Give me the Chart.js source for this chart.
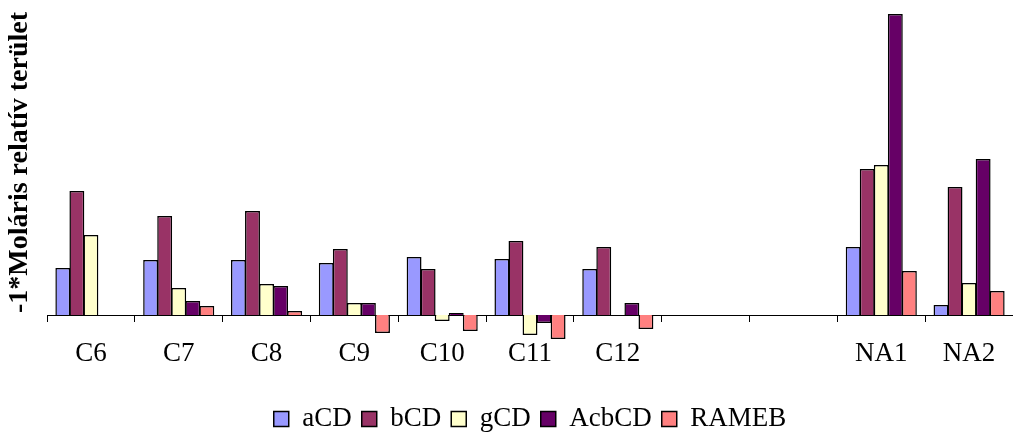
<!DOCTYPE html>
<html>
<head>
<meta charset="utf-8">
<script src="https://cdn.jsdelivr.net/npm/chart.js@4"></script>
<style>
  html, body { margin: 0; padding: 0; background: #fff; }
  #wrap { width: 1013px; height: 432px; }
</style>
</head>
<body>
<div id="wrap"><canvas id="chart"></canvas></div>
<script>
const categories = ["C6", "C7", "C8", "C9", "C10", "C11", "C12", "", "", "NA1", "NA2"];
const aCD = [47, 55, 55, 52, 58, 56, 46, null, null, 68, 10];
const bCD = [124, 99, 104, 66, 46, 74, 68, null, null, 146, 128];
const gCD = [80, 27, 31, 12, -6, -20, null, null, null, 150, 32];
const AcbCD = [null, 14, 29, 12, 2, -8, 12, null, null, 301, 156];
const RAMEB = [null, 9, 4, -18, -16, -24, -14, null, null, 44, 24];

const serif = "'Liberation Serif', 'Times New Roman', Times, serif";
Chart.defaults.font.family = serif;
Chart.defaults.color = "#000";

function bar(label, data, color) {
  return {
    label: label,
    data: data,
    backgroundColor: color,
    borderColor: "#000",
    borderWidth: 1.5,
    clip: false,
  };
}

const chart = new Chart(document.getElementById("chart"), {
  type: "bar",
  data: {
    labels: categories,
    datasets: [
      bar("aCD", aCD, "#9999FF"),
      bar("bCD", bCD, "#993366"),
      bar("gCD", gCD, "#FFFFCC"),
      bar("AcbCD", AcbCD, "#660066"),
      bar("RAMEB", RAMEB, "#FF8080"),
    ],
  },
  options: {
    responsive: true,
    maintainAspectRatio: false,
    animation: false,
    datasets: {
      bar: { categoryPercentage: 0.8, barPercentage: 1.06 },
    },
    layout: {
      padding: { left: 3, right: 0, top: 10, bottom: -10.5 },
    },
    scales: {
      x: {
        grid: {
          display: true,
          drawOnChartArea: false,
          drawTicks: true,
          tickLength: 7,
          offset: true,
          color: "#000",
        },
        border: { display: true, color: "#000", width: 1 },
        ticks: {
          padding: 16,
          font: { size: 27 },
          maxRotation: 0,
          autoSkip: false,
        },
        afterFit: function (scale) {
          scale.height = 80.5;
        },
      },
      y: {
        min: 0,
        max: 305,
        grid: { display: false, drawTicks: false },
        border: { display: false },
        ticks: { display: false },
        title: {
          display: true,
          text: "-1*Moláris relatív terület",
          font: { size: 28, weight: "bold" },
          padding: { top: 0, bottom: 10.4 },
        },
      },
    },
    plugins: {
      tooltip: { enabled: false },
      legend: {
        display: true,
        position: "bottom",
        fullSize: false,
        labels: {
          boxWidth: 15,
          boxHeight: 15,
          padding: 10,
          font: { size: 27 },
        },
      },
    },
  },
});
</script>
</body>
</html>
